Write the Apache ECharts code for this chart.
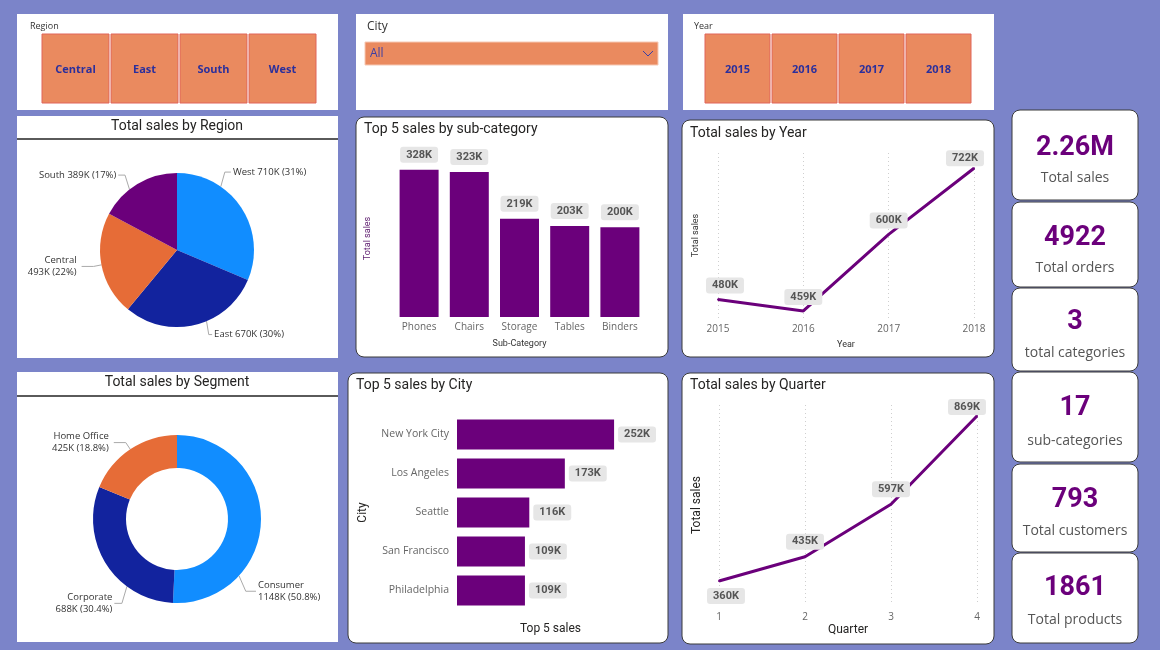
<!DOCTYPE html>
<html>
<head>
<meta charset="utf-8">
<script src="https://cdn.jsdelivr.net/npm/echarts@6/dist/echarts.min.js"></script>
<style>
  html, body { margin: 0; padding: 0; background: #7b84c9; }
  #main { width: 1160px; height: 650px; }
</style>
</head>
<body>
<div id="main"></div>
<script>
// data (sales in thousands)
const regionNames = ['West', 'East', 'Central', 'South']
const regionSales = [710, 670, 493, 389]
const regionWrapped = ['Central']
const segmentNames = ['Consumer', 'Corporate', 'Home Office']
const segmentSales = [1148, 688, 425]
const subCategories = ['Phones', 'Chairs', 'Storage', 'Tables', 'Binders']
const subSales = [328, 323, 219, 203, 200]
const years = ['2015', '2016', '2017', '2018']
const yearSales = [480, 459, 600, 722]
const cities = ['New York City', 'Los Angeles', 'Seattle', 'San Francisco', 'Philadelphia']
const citySales = [252, 173, 116, 109, 109]
const quarters = ['1', '2', '3', '4']
const quarterSales = [360, 435, 597, 869]
const regionButtons = ['Central', 'East', 'South', 'West']
const yearButtons = ['2015', '2016', '2017', '2018']
const kpiValues = ['2.26M', '4922', '3', '17', '793', '1861']
const kpiLabels = ['Total sales', 'Total orders', 'total categories', 'sub-categories', 'Total customers', 'Total products']

const PURPLE = '#6b007b'
const TITLE = '#252423'
const SANS = '"Open Sans", "Noto Sans", sans-serif'
const DIN = 'Roboto, "Noto Sans", sans-serif'
const pieColors = { West: '#118dff', East: '#12239e', Central: '#e66c37', South: '#6b007b', Consumer: '#118dff', Corporate: '#12239e', 'Home Office': '#e66c37' }

// power bi puts some pie labels away from the slice middle
const regionLabelShift = [[-32, -31], [0, 2], [0, 0], [0, -2]]
const segmentLabelShift = [[-28, 70], [30, 35], [0, 0]]

const chart = echarts.init(document.getElementById('main'), null, { renderer: 'canvas' })

// moves a pie label and redraws its guide line from the rim
function shiftedLabel(shift, cx, cy, R) {
  return p => {
    const [dx, dy] = shift[p.dataIndex]
    if (!dx && !dy) return {}
    const r = p.labelRect
    const x = r.x + dx
    const y = r.y + dy
    const right = r.x + r.width / 2 > cx
    const ax = right ? x - 2 : x + r.width + 2
    const ay = y + r.height / 2
    const len = Math.hypot(ax - cx, ay - cy)
    const ex = cx + (ax - cx) * R / len
    const ey = cy + (ay - cy) * R / len
    const bx = ex + (ax - ex) * 0.4
    return { dx, dy, labelLinePoints: [[ex, ey], [bx, ay], [ax, ay]] }
  }
}

// ---------- panels, slicers and cards ----------
const graphics = []

function panel(x, y, w, h, r) {
  graphics.push({
    type: 'rect', z: 0,
    shape: { x, y, width: w, height: h, r: r || 0 },
    style: r ? { fill: '#fff', stroke: '#3a3a3a', lineWidth: 1 } : { fill: '#fff' }
  })
}
function text(str, x, y, opt) {
  graphics.push({
    type: 'text', z: 5,
    style: Object.assign({
      text: str, x, y, fill: TITLE, fontSize: 14, fontFamily: DIN,
      align: 'left', verticalAlign: 'middle'
    }, opt || {})
  })
}

// slicers
panel(17, 14, 321, 96)
panel(356, 14, 312, 96)
panel(683, 14, 311, 96)
text('Region', 30, 26, { fontSize: 9, fontFamily: SANS, fill: '#333' })
text('City', 367, 27, { fontSize: 12, fontFamily: SANS, fill: '#333' })
text('Year', 694, 26, { fontSize: 9, fontFamily: SANS, fill: '#333' })

function buttons(labels, x0, w, step) {
  labels.forEach((label, i) => {
    const x = x0 + i * step
    graphics.push({
      type: 'rect', z: 1,
      shape: { x, y: 34, width: w, height: 69 },
      style: { fill: '#ea8a5f', stroke: '#e0645a', lineWidth: 1 }
    })
    text(label, x + w / 2, 70, { align: 'center', fontSize: 11, fontWeight: 'bold', fontFamily: SANS, fill: '#2b2f9c' })
  })
}
buttons(regionButtons, 42, 67, 69)
buttons(yearButtons, 705, 65, 67)

graphics.push({
  type: 'rect', z: 1,
  shape: { x: 365, y: 42, width: 293, height: 23 },
  style: { fill: '#ea8a5f', stroke: '#f6c8b4', lineWidth: 1 }
})
text('All', 370, 54, { fontSize: 12, fontFamily: SANS, fill: '#3b3fa5' })
graphics.push({
  type: 'polyline', z: 2,
  shape: { points: [[643, 51], [648, 56], [653, 51]] },
  style: { stroke: '#3b3fa5', lineWidth: 1, fill: null }
})

// chart panels
panel(17, 116, 321, 242)
graphics.push({ type: 'rect', z: 1, shape: { x: 17, y: 138, width: 321, height: 2 }, style: { fill: '#5a5a5a' } })
text('Total sales by Region', 177, 126, { align: 'center' })

panel(356, 117, 312, 240, 8)
text('Top 5 sales by sub-category', 364, 129)

panel(682, 120, 312, 237, 8)
text('Total sales by Year', 690, 133)

panel(17, 372, 321, 270)
graphics.push({ type: 'rect', z: 1, shape: { x: 17, y: 395, width: 321, height: 2 }, style: { fill: '#5a5a5a' } })
text('Total sales by Segment', 177, 382, { align: 'center' })

panel(348, 373, 320, 270, 8)
text('Top 5 sales by City', 356, 385)

panel(682, 373, 312, 271, 8)
text('Total sales by Quarter', 690, 385)

// kpi cards
const cardTops = [110, 202, 288, 372, 464, 553]
const cardBottoms = [200, 287, 371, 462, 552, 643]
const valueY = [148, 238, 322, 408, 500, 588]
const labelY = [178, 268, 353, 441, 531, 620]
kpiValues.forEach((v, i) => {
  panel(1012, cardTops[i], 126, cardBottoms[i] - cardTops[i], 8)
  text(v, 1075, valueY[i], { align: 'center', fontSize: 27, fontWeight: 'bold', fill: PURPLE })
  text(kpiLabels[i], 1075, labelY[i], { align: 'center', fontSize: 14, fontFamily: SANS, fill: '#555' })
})

// ---------- shared styles ----------
const valueBox = {
  show: true,
  backgroundColor: '#e6e6e6',
  borderRadius: 3,
  padding: [2, 6],
  lineHeight: 12,
  color: '#555',
  fontSize: 11,
  fontWeight: 'bold',
  fontFamily: DIN,
  formatter: p => p.value + 'K'
}
const axisLabel = { color: '#666', fontSize: 10, fontFamily: SANS }
const hidden = { show: false }

chart.setOption({
  backgroundColor: '#7b84c9',
  animation: false,
  graphic: graphics,
  grid: [
    { left: 394, right: 515, top: 160, bottom: 333 },
    { left: 718, right: 186, top: 153, bottom: 332 },
    { left: 457, right: 516, top: 415, bottom: 40 },
    { left: 719, right: 183, top: 405, bottom: 45 }
  ],
  xAxis: [
    {
      gridIndex: 0, type: 'category', data: subCategories,
      axisLine: hidden, axisTick: hidden,
      axisLabel: Object.assign({ margin: 5 }, axisLabel),
      name: 'Sub-Category', nameLocation: 'middle', nameGap: 22,
      nameTextStyle: { fontSize: 9, color: '#333', fontFamily: DIN }
    },
    {
      gridIndex: 1, type: 'category', data: years, boundaryGap: false,
      axisLine: hidden, axisTick: hidden,
      axisLabel: Object.assign({ margin: 6 }, axisLabel),
      splitLine: { show: true, lineStyle: { color: '#cfcfcf', type: [1, 3] } },
      name: 'Year', nameLocation: 'middle', nameGap: 22,
      nameTextStyle: { fontSize: 9, color: '#333', fontFamily: DIN }
    },
    {
      gridIndex: 2, type: 'value', min: 0, max: 300,
      axisLine: hidden, axisTick: hidden, axisLabel: hidden, splitLine: hidden,
      name: 'Top 5 sales', nameLocation: 'middle', nameGap: 13,
      nameTextStyle: { fontSize: 12, color: TITLE, fontFamily: DIN }
    },
    {
      gridIndex: 3, type: 'category', data: quarters, boundaryGap: false,
      axisLine: hidden, axisTick: hidden,
      axisLabel: Object.assign({ margin: 7 }, axisLabel),
      splitLine: { show: true, lineStyle: { color: '#cfcfcf', type: [1, 3] } },
      name: 'Quarter', nameLocation: 'middle', nameGap: 19,
      nameTextStyle: { fontSize: 12, color: TITLE, fontFamily: DIN }
    }
  ],
  yAxis: [
    {
      gridIndex: 0, type: 'value', min: 0, max: 350,
      axisLine: hidden, axisTick: hidden, axisLabel: hidden, splitLine: hidden,
      name: 'Total sales', nameLocation: 'middle', nameRotate: 90, nameGap: 22,
      nameTextStyle: { fontSize: 9, color: '#5c1a6e', fontFamily: DIN }
    },
    {
      gridIndex: 1, type: 'value', min: 446, max: 750,
      axisLine: hidden, axisTick: hidden, axisLabel: hidden, splitLine: hidden,
      name: 'Total sales', nameLocation: 'middle', nameRotate: 90, nameGap: 18,
      nameTextStyle: { fontSize: 9, color: '#333', fontFamily: DIN }
    },
    {
      gridIndex: 2, type: 'category', data: cities, inverse: true,
      axisLine: hidden, axisTick: hidden,
      axisLabel: Object.assign({}, axisLabel, { margin: 8, fontSize: 10.5 }),
      name: 'City', nameLocation: 'middle', nameRotate: 90, nameGap: 88,
      nameTextStyle: { fontSize: 12, color: TITLE, fontFamily: DIN }
    },
    {
      gridIndex: 3, type: 'value', min: 286, max: 903,
      axisLine: hidden, axisTick: hidden, axisLabel: hidden, splitLine: hidden,
      name: 'Total sales', nameLocation: 'middle', nameRotate: 90, nameGap: 16,
      nameTextStyle: { fontSize: 12, color: TITLE, fontFamily: DIN }
    }
  ],
  series: [
    {
      name: 'Total sales by Region', type: 'pie',
      center: [177, 250], radius: 77, startAngle: 90, clockwise: true,
      percentPrecision: 0,
      data: regionNames.map((n, i) => ({ name: n, value: regionSales[i], itemStyle: { color: pieColors[n] } })),
      label: {
        color: '#333', fontSize: 9.5, fontFamily: SANS, lineHeight: 12,
        formatter: p => p.name + (regionWrapped.includes(p.name) ? '\n' : ' ') + p.value + 'K (' + p.percent + '%)'
      },
      labelLine: { length: 8, length2: 12, lineStyle: { color: '#aaa', width: 1 } },
      labelLayout: shiftedLabel(regionLabelShift, 177, 250, 77)
    },
    {
      name: 'Total sales by Segment', type: 'pie',
      center: [177, 519], radius: [51, 84], startAngle: 90, clockwise: true,
      percentPrecision: 1,
      data: segmentNames.map((n, i) => ({ name: n, value: segmentSales[i], itemStyle: { color: pieColors[n] } })),
      label: {
        color: '#333', fontSize: 9.5, fontFamily: SANS, lineHeight: 12,
        formatter: p => p.name + '\n' + p.value + 'K (' + p.percent + '%)'
      },
      labelLine: { length: 8, length2: 12, lineStyle: { color: '#aaa', width: 1 } },
      labelLayout: shiftedLabel(segmentLabelShift, 177, 519, 84)
    },
    {
      name: 'Top 5 sales by sub-category', type: 'bar',
      xAxisIndex: 0, yAxisIndex: 0, data: subSales, barWidth: 39,
      itemStyle: { color: PURPLE },
      label: Object.assign({ position: 'top', distance: 7 }, valueBox)
    },
    {
      name: 'Total sales by Year', type: 'line',
      xAxisIndex: 1, yAxisIndex: 1,
      data: yearSales.map((v, i) => ({
        value: v,
        label: i === 0 ? { offset: [7, 0] } : i === 3 ? { offset: [-9, 4] } : {}
      })),
      symbol: 'circle', symbolSize: 2,
      itemStyle: { color: PURPLE },
      lineStyle: { color: PURPLE, width: 3 },
      label: Object.assign({ position: 'top', distance: 5 }, valueBox)
    },
    {
      name: 'Top 5 sales by City', type: 'bar',
      xAxisIndex: 2, yAxisIndex: 2, data: citySales, barWidth: 30,
      itemStyle: { color: PURPLE },
      label: Object.assign({ position: 'right', distance: 4 }, valueBox)
    },
    {
      name: 'Total sales by Quarter', type: 'line',
      xAxisIndex: 3, yAxisIndex: 3,
      data: quarterSales.map((v, i) => ({
        value: v,
        label: i === 0 ? { position: 'bottom', offset: [7, 0] } : i === 3 ? { offset: [-10, 6] } : {}
      })),
      symbol: 'circle', symbolSize: 2,
      itemStyle: { color: PURPLE },
      lineStyle: { color: PURPLE, width: 3 },
      label: Object.assign({ position: 'top', distance: 6 }, valueBox)
    }
  ]
})
</script>
</body>
</html>
